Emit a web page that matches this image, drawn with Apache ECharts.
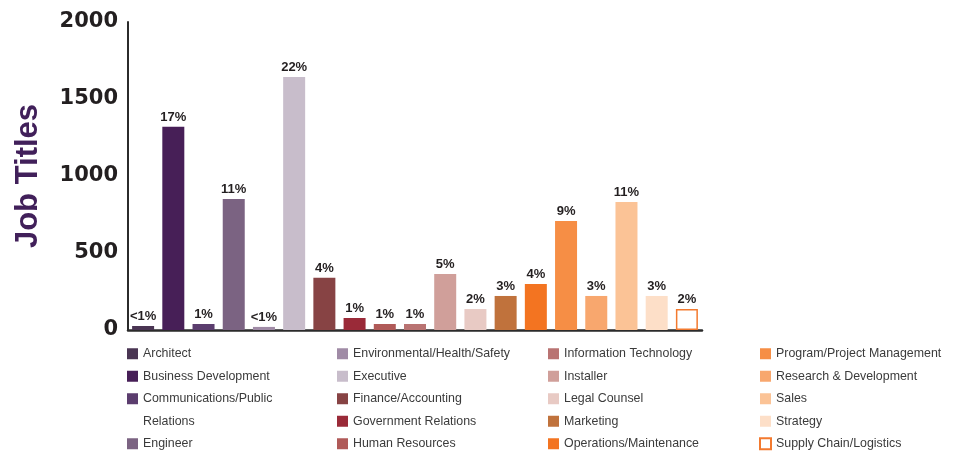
<!DOCTYPE html>
<html>
<head>
<meta charset="utf-8">
<script src="https://cdn.jsdelivr.net/npm/echarts@6/dist/echarts.min.js"></script>
<style>
  html, body { margin: 0; padding: 0; background: #fff; }
  #chart { width: 957px; height: 453px; }
</style>
</head>
<body>
<div id="chart"></div>
<script>
// job title categories, in bar order
const categories = [
  'Architect', 'Business Development', 'Communications/Public Relations', 'Engineer',
  'Environmental/Health/Safety', 'Executive', 'Finance/Accounting', 'Government Relations',
  'Human Resources', 'Information Technology', 'Installer', 'Legal Counsel', 'Marketing',
  'Operations/Maintenance', 'Program/Project Management', 'Research & Development',
  'Sales', 'Strategy', 'Supply Chain/Logistics'
]
// counts
const counts = [26, 1320, 39, 851, 20, 1643, 340, 78, 39, 39, 364, 136, 221, 299, 708, 221, 831, 221, 136]
// percentage labels printed above the bars
const pctLabels = ['<1%', '17%', '1%', '11%', '<1%', '22%', '4%', '1%', '1%', '1%', '5%', '2%', '3%', '4%', '9%', '3%', '11%', '3%', '2%']
const barColors = [
  '#4a3553', '#471f57', '#5b3d6e', '#7b6382', '#a08ba6', '#c8bdcb', '#874344', '#9a2a38',
  '#b05a58', '#b97372', '#d09f9a', '#e8cac4', '#c0723c', '#f37421', '#f68e45', '#f8a76e',
  '#fbc396', '#fddfc8', '#ffffff'
]
const yTicks = [0, 500, 1000, 1500, 2000]

const chartInstance = echarts.init(document.getElementById('chart'))

const sans = '"Liberation Sans", Arial, sans-serif'
const rowH = 22.5
const textH = 16

// one series per category so that each gets its own legend entry
const series = categories.map((name, i) => {
  const last = i === categories.length - 1
  return {
    name: name,
    type: 'bar',
    barWidth: 22,
    barGap: '-100%',
    data: categories.map((c, j) => (j === i ? counts[i] : '-')),
    itemStyle: last
      ? { color: '#ffffff', borderColor: '#f37a2f', borderWidth: 1.5 }
      : { color: barColors[i] },
    label: {
      show: true,
      position: 'top',
      distance: 3,
      color: '#231f20',
      fontFamily: sans,
      fontWeight: 'bold',
      fontSize: 13,
      formatter: (p) => pctLabels[p.dataIndex]
    }
  }
})

const legendBase = {
  orient: 'vertical',
  itemWidth: 11,
  itemHeight: 11,
  itemGap: rowH - textH,
  padding: 0,
  icon: 'rect',
  selectedMode: false,
  textStyle: { color: '#3b3b3b', fontFamily: sans, fontSize: 12.4, lineHeight: textH }
}
const legendTop = 353.75 - 5.5 - (textH / 2 - 5.5)
const col = (left, top, names) => Object.assign({}, legendBase, { left: left, top: top, data: names })

const option = {
  animation: false,
  grid: { left: 128, right: 255, top: 22, bottom: 123, outerBoundsMode: 'none' },
  xAxis: {
    type: 'category',
    data: categories,
    axisLine: { lineStyle: { color: '#2b2b2b', width: 2.5 } },
    axisTick: { show: false },
    axisLabel: { show: false }
  },
  yAxis: {
    type: 'value',
    min: yTicks[0],
    max: yTicks[yTicks.length - 1],
    interval: 500,
    name: 'Job Titles',
    nameLocation: 'middle',
    nameRotate: 90,
    nameGap: 84,
    nameTextStyle: { color: '#41205a', fontFamily: sans, fontWeight: 'bold', fontSize: 31 },
    axisLine: { show: true, lineStyle: { color: '#2b2b2b', width: 2 } },
    axisTick: { show: false },
    splitLine: { show: false },
    axisLabel: {
      color: '#231f20', fontFamily: '"DejaVu Sans", sans-serif', fontWeight: 'bold', fontSize: 21, margin: 10,
      formatter: (v) => String(v)
    }
  },
  legend: [
    col(127, legendTop, [categories[0], categories[1], categories[2]]),
    col(127, legendTop + 4 * rowH, [categories[3]]),
    col(337, legendTop, categories.slice(4, 9)),
    col(548, legendTop, categories.slice(9, 14)),
    col(759, legendTop, categories.slice(14, 19))
  ].map((l, k) => k === 0 ? Object.assign(l, {
    formatter: (n) => (n === categories[2] ? 'Communications/Public' : n)
  }) : l),
  graphic: [{
    type: 'text',
    left: 143,
    top: 353.75 + 3 * rowH - textH / 2,
    style: { text: 'Relations', fill: '#3b3b3b', font: '12.4px ' + sans, lineHeight: textH, verticalAlign: 'top' }
  }],
  series: series
}
chartInstance.setOption(option)
</script>
</body>
</html>
